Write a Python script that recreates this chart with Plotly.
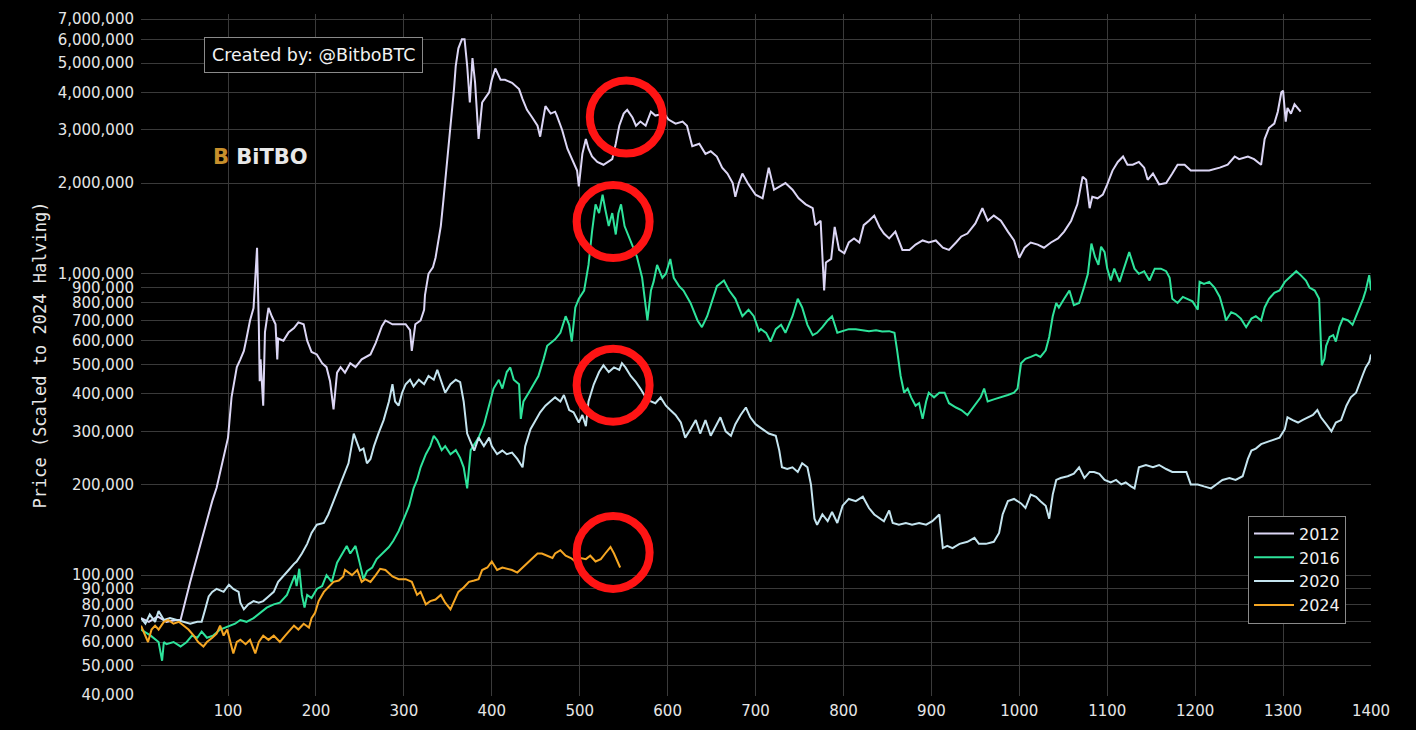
import numpy as np
import plotly.graph_objects as go

# ---------------- data (day since halving, price in thousands USD scaled to 2024 halving) ----------------
days_2012 = [1, 10, 20, 30, 40, 46, 57, 63, 68, 76, 82, 87, 95, 100, 104, 110, 114, 118, 121, 125, 129, 131, 133, 135, 136, 137, 140, 142, 146, 150, 154, 156, 157, 163, 169, 175, 180, 186, 190, 195, 201, 207, 212, 216, 220, 224, 228, 233, 239,
             245, 252, 262, 268, 275, 279, 287, 294, 302, 307, 309, 313, 319, 323, 324, 328, 333, 336, 342, 345, 349, 353, 357, 359, 362, 366, 369, 372, 375, 378, 381, 385, 389, 393, 397, 400, 404, 410, 415, 423, 431, 435, 440, 446, 452, 455, 461, 467, 472,
             474, 480, 486, 490, 493, 497, 499, 503, 507, 510, 514, 520, 527, 537, 541, 545, 550, 554, 560, 564, 569, 575, 581, 586, 596, 601, 609, 617, 622, 628, 636, 643, 649, 656, 662, 668, 674, 677, 681, 685, 691, 696,
             700, 708, 715, 721, 727, 734, 742, 749, 757, 765, 768, 774, 778, 780, 786, 790, 795, 801, 806, 812, 818, 823, 829, 835, 841, 846, 852, 859, 867, 875, 882, 890, 897, 905, 913, 920, 928, 934,
             941, 950, 958, 964, 971, 979, 987, 994, 1000, 1006, 1013, 1021, 1028, 1036, 1044, 1051, 1059, 1066, 1072, 1076, 1080, 1083, 1089, 1095, 1100, 1106, 1112, 1118, 1123, 1129, 1136, 1142, 1146, 1152, 1159,
             1167, 1174, 1180, 1188, 1195, 1205, 1216, 1228, 1237, 1245, 1250, 1260, 1267, 1275, 1279, 1284, 1290, 1294, 1298, 1300, 1303, 1305, 1309, 1313, 1317, 1320]
price_2012_k = [72, 70, 73, 70, 71, 71, 95, 110, 127, 154, 176, 195, 245, 286, 390, 490, 520, 555, 610, 700, 770, 940, 1220, 680, 440, 520, 365, 640, 770, 720, 680, 520, 610, 600, 640, 660, 690, 680, 600, 550, 540, 505, 490, 440, 355, 470, 490, 470, 505,
                490, 520, 540, 590, 670, 700, 680, 680, 680, 650, 555, 680, 700, 760, 850, 1000, 1050, 1130, 1440, 1760, 2300, 3000, 4100, 4900, 5600, 6000, 6000, 4900, 3700, 5200, 4300, 2800, 3700, 3850, 4000, 4400, 4800, 4400, 4400, 4300, 4100, 3800, 3500, 3300, 3100, 2850, 3600, 3400, 3450,
                3350, 3000, 2600, 2450, 2350, 2200, 1950, 2500, 2800, 2600, 2450, 2350, 2300, 2400, 2700, 3100, 3400, 3500, 3300, 3100, 3200, 3100, 3450, 3350, 3400, 3250, 3150, 3200, 3100, 2650, 2700, 2500, 2550, 2450, 2250, 2150, 2000, 1800, 2000, 2150, 2000, 1900,
                1830, 1780, 2250, 1900, 1950, 2000, 1900, 1780, 1700, 1650, 1450, 1500, 880, 1090, 1120, 1430, 1200, 1170, 1270, 1310, 1270, 1450, 1500, 1560, 1430, 1360, 1310, 1380, 1200, 1200, 1250, 1290, 1270, 1290, 1220, 1200, 1270, 1330,
                1360, 1470, 1650, 1500, 1560, 1500, 1380, 1290, 1130, 1220, 1270, 1250, 1220, 1270, 1310, 1380, 1500, 1700, 2100, 2050, 1650, 1800, 1780, 1830, 1980, 2200, 2350, 2450, 2300, 2300, 2350, 2250, 2050, 2150, 1980,
                2000, 2150, 2300, 2300, 2200, 2200, 2200, 2250, 2300, 2450, 2400, 2450, 2400, 2300, 2800, 3050, 3150, 3450, 4000, 4050, 3200, 3550, 3400, 3650, 3550, 3450]

days_2016 = [1, 12, 21, 25, 27, 30, 38, 46, 53, 59, 65, 70, 76, 83, 91, 101, 108, 114, 121, 129, 137, 144, 152, 159, 167, 173, 176, 178, 181, 184, 187, 190, 195, 201, 207, 212, 218, 224, 230, 235,
             239, 245, 250, 254, 258, 264, 269, 275, 283, 288, 294, 300, 306, 311, 315, 319, 325, 330, 334, 338, 343, 347, 353, 359, 364, 368, 372, 376, 380, 385, 391, 397, 402, 408, 412, 417, 421, 425, 431, 433, 436, 442, 448, 453, 459, 463, 469,
             472, 478, 484, 488, 491, 495, 499, 505, 510, 514, 518, 522, 526, 529, 533, 537, 541, 544, 547, 551, 555, 560, 565, 571, 577, 581, 584, 588, 594, 598, 603, 607, 613, 618, 626, 634, 639, 645, 651, 656, 664, 670, 677, 685, 692, 698, 704,
             706, 712, 717, 723, 729, 734, 742, 748, 753, 759, 765, 770, 776, 782, 787, 793, 799, 806, 814, 822, 829, 837, 844, 852, 858, 861, 865, 869, 873, 877, 882, 886, 890, 894, 897, 903, 909, 915, 920, 928, 934,
             941, 949, 956, 960, 964, 971, 979, 987, 994, 998, 1002, 1007, 1013, 1019, 1024, 1030, 1034, 1038, 1042, 1045, 1051, 1057, 1062, 1068, 1074, 1078, 1082, 1086, 1090, 1093, 1097, 1100, 1104, 1108, 1114, 1119, 1125, 1131, 1136, 1142, 1148, 1154, 1161,
             1167, 1171, 1174, 1180, 1186, 1191, 1197, 1203, 1205, 1210, 1216, 1222, 1228, 1233, 1235, 1241, 1246, 1252, 1258, 1264, 1269, 1275, 1279, 1284, 1290, 1296, 1302, 1307, 1315, 1320, 1326, 1330, 1336, 1341, 1342, 1344, 1347, 1349, 1353, 1357, 1360, 1364, 1368, 1374, 1379, 1385, 1391, 1394, 1398, 1400]
price_2016_k = [66, 63, 60, 52, 60, 59, 60, 58, 60, 63, 62, 65, 62, 63, 66, 68, 69, 71, 70, 72, 75, 78, 80, 81, 86, 95, 100, 92, 105, 86, 78, 86, 84, 90, 92, 100, 95, 110, 118, 125,
                118, 125, 109, 97, 103, 106, 113, 118, 124, 130, 140, 154, 170, 194, 207, 228, 252, 268, 290, 280, 260, 268, 252, 260, 245, 228, 194, 260, 272, 286, 315, 365, 416, 445, 416, 472, 489, 445, 430, 330, 377, 403, 430, 458, 522, 577, 596,
                606, 637, 723, 677, 596, 773, 826, 880, 1070, 1380, 1700, 1590, 1830, 1640, 1440, 1590, 1350, 1590, 1700, 1440, 1350, 1230, 1140, 970, 700, 880, 940, 1070, 970, 1000, 1120, 970, 910, 880, 800, 700, 665, 723, 826, 910, 950, 880, 826, 723, 760, 723, 645,
                655, 637, 596, 655, 677, 637, 723, 826, 773, 677, 626, 637, 665, 700, 723, 637, 645, 655, 655, 650, 645, 650, 643, 645, 637, 557, 458, 403, 416, 389, 365, 372, 330, 377, 403, 389, 403, 403, 372, 360, 353,
                340, 365, 389, 416, 377, 383, 389, 396, 403, 416, 505, 522, 530, 539, 530, 557, 617, 723, 800, 773, 826, 880, 787, 800, 910, 1000, 1260, 1140, 1070, 1230, 1180, 1040, 950, 1040, 940, 1040, 1180, 1040, 1000, 1020, 950, 1040, 1040,
                1020, 970, 826, 800, 838, 826, 810, 760, 940, 925, 940, 900, 838, 745, 700, 745, 735, 710, 665, 710, 723, 700, 773, 826, 865, 880, 940, 970, 1020, 990, 950, 900, 880, 826, 677, 497, 522, 577, 617, 626, 596, 665, 710, 700, 677, 745, 826, 880, 990, 880]

days_2020 = [1, 6, 11, 17, 21, 27, 34, 42, 49, 57, 65, 70, 74, 78, 82, 87, 95, 101, 106, 112, 114, 118, 123, 129, 135, 140, 146, 152, 157, 163, 169, 175, 178, 184, 190, 195, 201, 209, 214, 220, 226, 231,
             237, 243, 247, 250, 254, 258, 262, 266, 271, 277, 283, 287, 290, 294, 298, 302, 307, 311, 317, 323, 328, 334, 338, 342, 347, 353, 359, 364, 368, 372, 376, 380, 385, 391, 397, 400, 406, 412, 417, 423, 429, 435, 438, 444, 450, 455, 461, 467,
             472, 478, 482, 488, 493, 499, 503, 507, 510, 516, 522, 527, 533, 539, 545, 548, 552, 558, 564, 569, 575, 581, 586, 592, 598, 603, 609, 615, 620, 626, 632, 637, 643, 649, 655, 660, 666, 672, 677, 683, 689, 694,
             700, 708, 715, 723, 727, 730, 736, 742, 748, 753, 759, 763, 767, 770, 776, 782, 787, 793, 799, 806, 814, 822, 829, 835, 841, 846, 852, 856, 863, 871, 878, 886, 894, 901, 909, 913, 918, 924, 932,
             941, 949, 954, 962, 971, 977, 981, 987, 994, 1002, 1007, 1013, 1019, 1024, 1030, 1034, 1038, 1042, 1047, 1055, 1062, 1068, 1074, 1080, 1085, 1091, 1097, 1104, 1110, 1116, 1121, 1127, 1131, 1136, 1144, 1152, 1159,
             1167, 1174, 1182, 1190, 1195, 1203, 1210, 1218, 1224, 1231, 1239, 1246, 1254, 1260, 1264, 1269, 1275, 1281, 1288, 1296, 1302, 1305, 1311, 1317, 1322, 1328, 1334, 1339, 1343, 1349, 1355, 1360, 1366, 1372, 1377, 1383, 1387, 1391, 1394, 1398, 1400]
price_2020_k = [72, 69, 74, 70, 76, 71, 72, 71, 70, 69, 70, 70, 77, 85, 88, 90, 88, 93, 90, 88, 81, 77, 80, 82, 81, 82, 85, 88, 95, 99, 104, 109, 111, 118, 127, 138, 147, 149, 159, 176, 194, 213,
                235, 295, 276, 259, 263, 235, 243, 268, 295, 327, 377, 430, 377, 365, 403, 430, 445, 423, 445, 430, 458, 445, 480, 445, 403, 430, 445, 437, 377, 295, 276, 259, 286, 268, 286, 268, 252, 259, 252, 255, 243, 228, 268, 305, 327, 347, 365, 377,
                389, 377, 396, 353, 347, 321, 340, 312, 377, 430, 472, 497, 472, 489, 480, 505, 489, 458, 437, 416, 389, 377, 372, 389, 365, 353, 340, 321, 286, 305, 327, 295, 327, 290, 312, 334, 300, 290, 317, 340, 360, 334,
                317, 305, 295, 290, 259, 228, 225, 228, 220, 235, 228, 200, 154, 147, 159, 151, 162, 149, 170, 179, 176, 182, 167, 159, 154, 151, 164, 149, 147, 149, 147, 149, 147, 151, 159, 123, 125, 123, 127,
                129, 133, 127, 127, 129, 138, 159, 176, 179, 173, 167, 185, 182, 176, 170, 154, 185, 207, 210, 213, 217, 228, 210, 220, 220, 217, 207, 203, 207, 200, 203, 197, 194, 228, 232, 228, 232,
                225, 220, 220, 220, 200, 200, 197, 194, 200, 207, 210, 207, 213, 243, 259, 263, 272, 276, 281, 286, 305, 334, 327, 321, 327, 334, 340, 353, 334, 317, 300, 321, 327, 365, 389, 403, 430, 465, 489, 510, 540]

days_2024 = [1, 6, 9, 13, 17, 21, 27, 32, 38, 44, 49, 55, 61, 66, 72, 76, 82, 87, 91, 95, 99, 102, 106, 110, 114, 120, 125, 131, 135, 140, 146, 152, 159, 165, 171, 175, 180, 186, 192, 195, 199, 203, 209, 214, 220, 226, 231,
             233, 241, 247, 252, 256, 262, 268, 273, 279, 287, 294, 302, 309, 315, 319, 325, 330, 336, 342, 347, 353, 357, 362, 368, 374, 380, 385, 389, 395, 400, 406, 412, 417, 423, 429, 435, 440, 446, 452, 457, 463, 469,
             472, 478, 484, 490, 495, 501, 507, 512, 518, 524, 529, 535, 539, 543, 546]
price_2024_k = [68, 63, 60, 66, 68, 66, 70, 71, 69, 70, 68, 66, 63, 60, 58, 60, 62, 64, 68, 63, 66, 61, 55, 60, 61, 59, 61, 55, 60, 63, 61, 63, 60, 63, 66, 68, 66, 69, 67, 72, 75, 82, 88, 91, 95, 96, 99,
                104, 100, 104, 95, 97, 95, 100, 105, 104, 99, 97, 97, 95, 86, 88, 80, 82, 83, 86, 81, 77, 82, 88, 91, 95, 96, 97, 104, 106, 111, 104, 106, 105, 104, 102, 106, 109, 113, 118, 118, 116, 114,
                118, 121, 116, 114, 111, 114, 113, 116, 111, 113, 118, 124, 118, 111, 106]

series_names = ["2012", "2016", "2020", "2024"]
series_colors = ["#dcd6f5", "#2ee39b", "#c4e4ef", "#f5a623"]

# red highlight circles (centre day, centre price in thousands)
highlight_days = [553, 538, 538, 538]
highlight_price_k = [3310, 1490, 427, 119]

y_tick_values = [40e3, 50e3, 60e3, 70e3, 80e3, 90e3,
                 100e3, 200e3, 300e3, 400e3, 500e3, 600e3, 700e3, 800e3, 900e3,
                 1e6, 2e6, 3e6, 4e6, 5e6, 6e6, 7e6]
x_tick_values = list(range(100, 1401, 100))

# ---------------- figure ----------------
fig = go.Figure()
all_days = [days_2012, days_2016, days_2020, days_2024]
all_prices = [price_2012_k, price_2016_k, price_2020_k, price_2024_k]
for name, color, d, p in zip(series_names, series_colors, all_days, all_prices):
    fig.add_trace(go.Scatter(
        x=d, y=np.array(p, dtype=float) * 1000, mode="lines", name=name,
        line=dict(color=color, width=2),
    ))

# red circles drawn as open markers
fig.add_trace(go.Scatter(
    x=highlight_days, y=np.array(highlight_price_k, dtype=float) * 1000,
    mode="markers", showlegend=False, hoverinfo="skip",
    marker=dict(symbol="circle-open", size=73, color="#ff1414",
                line=dict(color="#ff1414", width=8)),
))

grid = "#3a3a3a"
fig.update_layout(
    width=1416, height=730,
    paper_bgcolor="#000000", plot_bgcolor="#000000",
    margin=dict(l=141, r=45, t=10, b=32),
    font=dict(family="DejaVu Sans", color="#e6e6e6", size=15),
    showlegend=True,
    legend=dict(
        x=0.9, y=0.2645, xanchor="left", yanchor="top",
        bgcolor="#000000", bordercolor="#8a8a8a", borderwidth=1,
        font=dict(family="DejaVu Sans", size=16, color="#f0f0f0"),
        itemwidth=40,
    ),
    xaxis=dict(
        range=[1, 1400], tickvals=x_tick_values,
        showgrid=True, gridcolor=grid, gridwidth=1,
        zeroline=False, showline=False, ticks="",
        tickfont=dict(family="DejaVu Sans", size=15, color="#e6e6e6"),
        ticklabelstandoff=4,
    ),
    yaxis=dict(
        type="log", range=[4.599, 6.862],
        tickvals=y_tick_values, tickformat=",",
        showgrid=True, gridcolor=grid, gridwidth=1,
        zeroline=False, showline=False, ticks="",
        tickfont=dict(family="DejaVu Sans", size=15, color="#e6e6e6"),
        ticklabelstandoff=6,
        title=dict(text="Price (Scaled to 2024 Halving)",
                   font=dict(family="DejaVu Sans Mono", size=17, color="#e6e6e6"),
                   standoff=6),
    ),
    annotations=[
        dict(text="Created by: @BitboBTC", xref="paper", yref="paper",
             x=0.1402, y=0.94, xanchor="center", yanchor="middle", showarrow=False,
             font=dict(family="DejaVu Sans", size=17.5, color="#f2f2f2"),
             bgcolor="#000000", bordercolor="#8a8a8a", borderwidth=1, borderpad=7),
        dict(text="<b><span style='color:#c8902c'>B</span> BiTBO</b>", xref="paper", yref="paper",
             x=0.0972, y=0.7907, xanchor="center", yanchor="middle", showarrow=False,
             font=dict(family="DejaVu Sans", size=21, color="#e8e8e8")),
    ],
)

fig.write_html(
    "out.html",
    config={"displayModeBar": False},
    post_script="document.body.style.margin='0';document.body.style.background='#000';",
)
